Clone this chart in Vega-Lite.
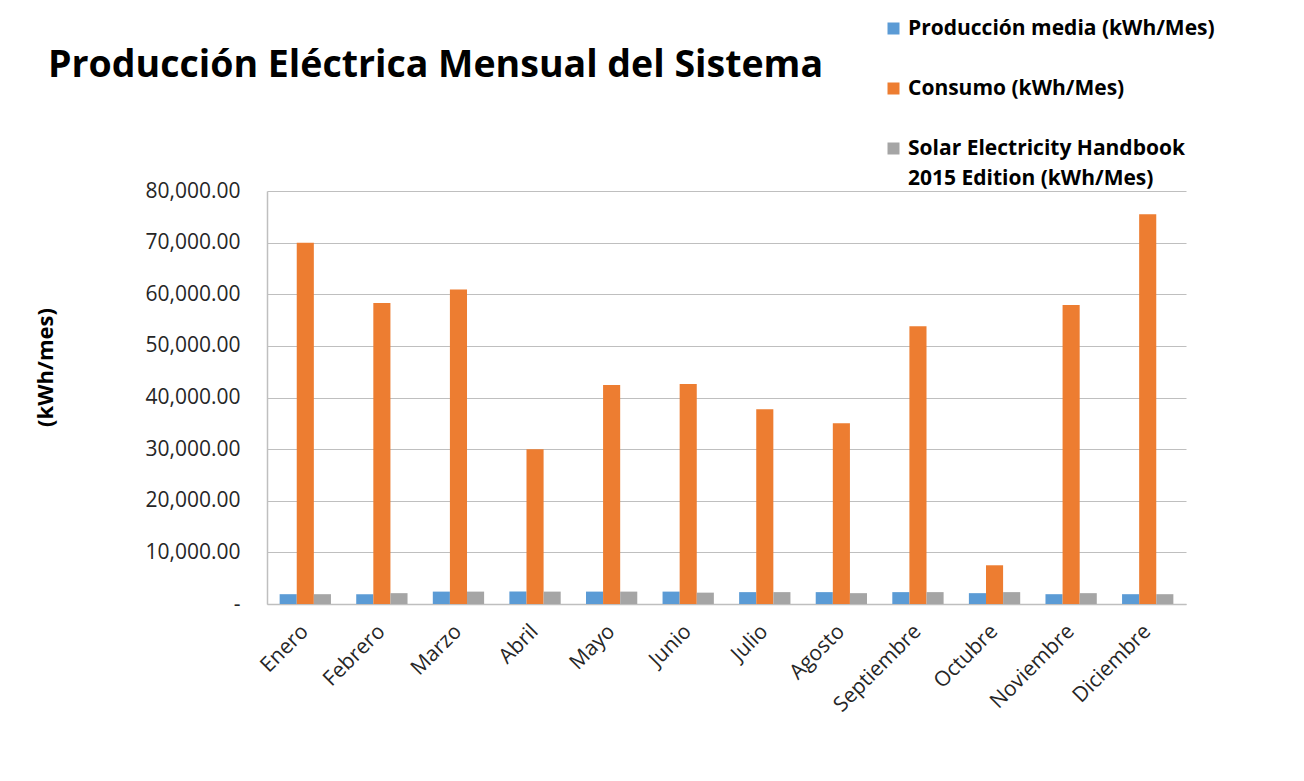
{
  "$schema": "https://vega.github.io/schema/vega-lite/v6.json",
  "width": 919,
  "height": 413,
  "autosize": {"type": "none"},
  "padding": {"left": 267, "top": 191, "right": 118, "bottom": 177},
  "background": "white",
  "title": {
    "text": "Producción Eléctrica Mensual del Sistema",
    "anchor": "start",
    "frame": "group",
    "dx": -219,
    "offset": 0,
    "dy": 96,
    "baseline": "alphabetic",
    "font": "Open Sans",
    "fontSize": 37.5,
    "fontWeight": "bold",
    "color": "#000000"
  },
  "data": {
    "values": [
      {"mes": "Enero", "serie": "Producción media (kWh/Mes)", "valor": 1900},
      {"mes": "Enero", "serie": "Consumo  (kWh/Mes)", "valor": 70000},
      {"mes": "Enero", "serie": "Solar Electricity Handbook 2015 Edition  (kWh/Mes)", "valor": 1900},
      {"mes": "Febrero", "serie": "Producción media (kWh/Mes)", "valor": 1900},
      {"mes": "Febrero", "serie": "Consumo  (kWh/Mes)", "valor": 58300},
      {"mes": "Febrero", "serie": "Solar Electricity Handbook 2015 Edition  (kWh/Mes)", "valor": 2100},
      {"mes": "Marzo", "serie": "Producción media (kWh/Mes)", "valor": 2400},
      {"mes": "Marzo", "serie": "Consumo  (kWh/Mes)", "valor": 60900},
      {"mes": "Marzo", "serie": "Solar Electricity Handbook 2015 Edition  (kWh/Mes)", "valor": 2400},
      {"mes": "Abril", "serie": "Producción media (kWh/Mes)", "valor": 2400},
      {"mes": "Abril", "serie": "Consumo  (kWh/Mes)", "valor": 30000},
      {"mes": "Abril", "serie": "Solar Electricity Handbook 2015 Edition  (kWh/Mes)", "valor": 2400},
      {"mes": "Mayo", "serie": "Producción media (kWh/Mes)", "valor": 2400},
      {"mes": "Mayo", "serie": "Consumo  (kWh/Mes)", "valor": 42400},
      {"mes": "Mayo", "serie": "Solar Electricity Handbook 2015 Edition  (kWh/Mes)", "valor": 2400},
      {"mes": "Junio", "serie": "Producción media (kWh/Mes)", "valor": 2400},
      {"mes": "Junio", "serie": "Consumo  (kWh/Mes)", "valor": 42600},
      {"mes": "Junio", "serie": "Solar Electricity Handbook 2015 Edition  (kWh/Mes)", "valor": 2200},
      {"mes": "Julio", "serie": "Producción media (kWh/Mes)", "valor": 2300},
      {"mes": "Julio", "serie": "Consumo  (kWh/Mes)", "valor": 37700},
      {"mes": "Julio", "serie": "Solar Electricity Handbook 2015 Edition  (kWh/Mes)", "valor": 2300},
      {"mes": "Agosto", "serie": "Producción media (kWh/Mes)", "valor": 2300},
      {"mes": "Agosto", "serie": "Consumo  (kWh/Mes)", "valor": 35000},
      {"mes": "Agosto", "serie": "Solar Electricity Handbook 2015 Edition  (kWh/Mes)", "valor": 2100},
      {"mes": "Septiembre", "serie": "Producción media (kWh/Mes)", "valor": 2300},
      {"mes": "Septiembre", "serie": "Consumo  (kWh/Mes)", "valor": 53800},
      {"mes": "Septiembre", "serie": "Solar Electricity Handbook 2015 Edition  (kWh/Mes)", "valor": 2300},
      {"mes": "Octubre", "serie": "Producción media (kWh/Mes)", "valor": 2100},
      {"mes": "Octubre", "serie": "Consumo  (kWh/Mes)", "valor": 7500},
      {"mes": "Octubre", "serie": "Solar Electricity Handbook 2015 Edition  (kWh/Mes)", "valor": 2300},
      {"mes": "Noviembre", "serie": "Producción media (kWh/Mes)", "valor": 1900},
      {"mes": "Noviembre", "serie": "Consumo  (kWh/Mes)", "valor": 57900},
      {"mes": "Noviembre", "serie": "Solar Electricity Handbook 2015 Edition  (kWh/Mes)", "valor": 2100},
      {"mes": "Diciembre", "serie": "Producción media (kWh/Mes)", "valor": 1900},
      {"mes": "Diciembre", "serie": "Consumo  (kWh/Mes)", "valor": 75500},
      {"mes": "Diciembre", "serie": "Solar Electricity Handbook 2015 Edition  (kWh/Mes)", "valor": 1900}
    ]
  },
  "mark": {"type": "bar"},
  "encoding": {
    "x": {
      "field": "mes",
      "type": "nominal",
      "sort": ["Enero", "Febrero", "Marzo", "Abril", "Mayo", "Junio", "Julio", "Agosto", "Septiembre", "Octubre", "Noviembre", "Diciembre"],
      "scale": {"paddingInner": 0.33, "paddingOuter": 0.165},
      "axis": {
        "title": null,
        "labelAngle": -45,
        "labelAlign": "right",
        "labelBaseline": "middle",
        "labelPadding": 24,
        "labelFont": "Open Sans",
        "labelFontSize": 21,
        "labelColor": "#262626",
        "ticks": false,
        "domainColor": "#bfbfbf",
        "domainWidth": 1.5,
        "grid": false
      }
    },
    "xOffset": {
      "field": "serie",
      "sort": ["Producción media (kWh/Mes)", "Consumo  (kWh/Mes)", "Solar Electricity Handbook 2015 Edition  (kWh/Mes)"]
    },
    "y": {
      "field": "valor",
      "type": "quantitative",
      "scale": {"domain": [0, 80000], "nice": false},
      "axis": {
        "title": "(kWh/mes)",
        "titleFont": "Open Sans",
        "titleFontSize": 22,
        "titleFontWeight": "bold",
        "titleColor": "#000000",
        "titleX": -222,
        "titleY": 176,
        "titleAngle": -90,
        "titleAlign": "center",
        "titleBaseline": "middle",
        "values": [0, 10000, 20000, 30000, 40000, 50000, 60000, 70000, 80000],
        "labelExpr": "datum.value == 0 ? '-    ' : format(datum.value, ',.2f')",
        "labelFont": "Open Sans",
        "labelFontSize": 21,
        "labelColor": "#262626",
        "labelPadding": 27,
        "ticks": false,
        "domain": true,
        "domainColor": "#bfbfbf",
        "domainWidth": 1.5,
        "grid": true,
        "gridColor": "#bfbfbf",
        "gridWidth": 1
      }
    },
    "color": {
      "field": "serie",
      "type": "nominal",
      "scale": {
        "domain": ["Producción media (kWh/Mes)", "Consumo  (kWh/Mes)", "Solar Electricity Handbook 2015 Edition  (kWh/Mes)"],
        "range": ["#5b9bd5", "#ed7d31", "#a5a5a5"]
      },
      "legend": {
        "title": null,
        "orient": "none",
        "legendX": 616,
        "legendY": -173,
        "direction": "vertical",
        "symbolType": "square",
        "symbolSize": 144,
        "symbolStrokeWidth": 0,
        "symbolOffset": 0,
        "labelFont": "Open Sans",
        "labelFontSize": 21,
        "labelFontWeight": "bold",
        "labelColor": "#000000",
        "labelLimit": 400,
        "labelOffset": 4,
        "rowPadding": 38,
        "labelExpr": "indexof(datum.label, 'Solar') == 0 ? ['Solar Electricity Handbook', '2015 Edition  (kWh/Mes)'] : datum.label"
      }
    }
  },
  "config": {
    "view": {"stroke": null},
    "style": {"guide-label": {"lineHeight": 30}}
  }
}
